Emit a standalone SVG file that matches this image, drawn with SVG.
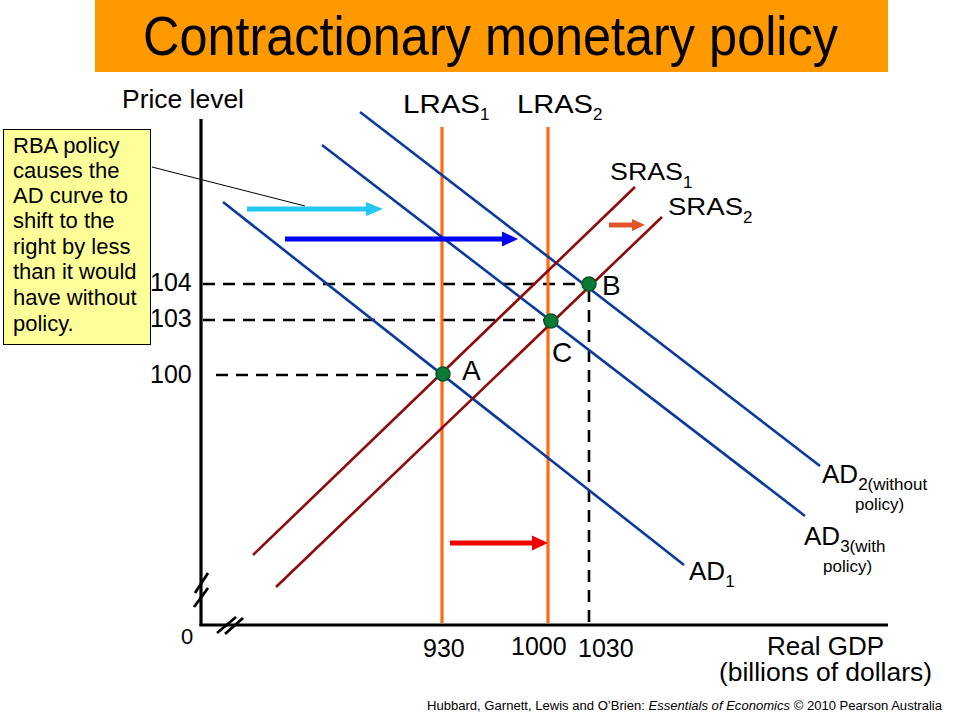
<svg xmlns="http://www.w3.org/2000/svg" width="960" height="720" viewBox="0 0 960 720">
<style>
text{font-family:"Liberation Sans",Arial,sans-serif;fill:#000}
.lbl{font-size:25px}
.sub{font-size:17px}
.ad{stroke:#0A3A9E;stroke-width:2.6;fill:none}
.sras{stroke:#8E0A0A;stroke-width:2.6;fill:none}
.lras{stroke:#FF6A13;stroke-width:3.2;fill:none}
.dash{stroke:#000;stroke-width:2.6;stroke-dasharray:12 8;fill:none}
.axis{stroke:#000;stroke-width:3.2;fill:none}
.dot{fill:#0A7A35;stroke:#0B5528;stroke-width:1.5}
.call{font-size:22px}
</style>
<rect width="960" height="720" fill="#fff"/>
<g id="title">
<rect x="95" y="0" width="793" height="72" fill="#FF9900"/>
<text x="143" y="55" font-size="56" textLength="695" lengthAdjust="spacingAndGlyphs">Contractionary monetary policy</text>
</g>
<g id="axes">
<line class="axis" x1="201" y1="119" x2="201" y2="626"/>
<line class="axis" x1="199.5" y1="625" x2="888" y2="625"/>
<g stroke="#000" stroke-width="2.8">
<line x1="195" y1="593" x2="208" y2="573"/>
<line x1="194" y1="607" x2="208" y2="588"/>
<line x1="217" y1="633" x2="236" y2="617"/>
<line x1="225" y1="634" x2="243" y2="618"/>
</g>
<text class="lbl" x="122" y="108" textLength="122" lengthAdjust="spacingAndGlyphs">Price level</text>
<text x="181" y="644" font-size="22">0</text>
<text class="lbl" x="150" y="291">104</text>
<text class="lbl" x="150" y="327">103</text>
<text class="lbl" x="150" y="383">100</text>
<text class="lbl" x="423" y="657">930</text>
<text class="lbl" x="511" y="655">1000</text>
<text class="lbl" x="578" y="657">1030</text>
<text class="lbl" x="767" y="655" textLength="117" lengthAdjust="spacingAndGlyphs">Real GDP</text>
<text class="lbl" x="719" y="681" textLength="213" lengthAdjust="spacingAndGlyphs">(billions of dollars)</text>
</g>
<g id="guides">
<line class="dash" x1="203" y1="284" x2="589" y2="284"/>
<line class="dash" x1="203" y1="320" x2="551" y2="320"/>
<line class="dash" x1="216" y1="375" x2="443" y2="375"/>
<line class="dash" x1="589" y1="290" x2="589" y2="625"/>
</g>
<g id="LRAS1">
<line class="lras" x1="442" y1="127" x2="442" y2="623"/>
<text x="403" y="113" font-size="26" textLength="77" lengthAdjust="spacingAndGlyphs">LRAS</text><text x="480" y="120" class="sub">1</text>
</g>
<g id="LRAS2">
<line class="lras" x1="548" y1="127" x2="548" y2="623"/>
<text x="517" y="113" font-size="26" textLength="76" lengthAdjust="spacingAndGlyphs">LRAS</text><text x="593" y="120" class="sub">2</text>
</g>
<g id="AD1">
<line class="ad" x1="223" y1="202" x2="684" y2="565"/>
<text x="689" y="580" font-size="26">AD<tspan class="sub" dy="7">1</tspan></text>
</g>
<g id="AD3">
<line class="ad" x1="322" y1="145" x2="805" y2="516"/>
<text x="804" y="545" font-size="26">AD<tspan class="sub" dy="7">3(with</tspan></text>
<text x="823" y="572" class="sub">policy)</text>
</g>
<g id="AD2">
<line class="ad" x1="360" y1="112" x2="820" y2="466"/>
<text x="822" y="483" font-size="26">AD<tspan class="sub" dy="7">2(without</tspan></text>
<text x="855" y="510" class="sub">policy)</text>
</g>
<g id="SRAS1">
<line class="sras" x1="253" y1="555" x2="635" y2="187"/>
<text x="610" y="180" font-size="24" textLength="73" lengthAdjust="spacingAndGlyphs">SRAS</text><text x="683" y="188" class="sub">1</text>
</g>
<g id="SRAS2">
<line class="sras" x1="276" y1="587" x2="662" y2="217"/>
<text x="668" y="215" font-size="24" textLength="75" lengthAdjust="spacingAndGlyphs">SRAS</text><text x="743" y="223" class="sub">2</text>
</g>
<g id="connectors">
<line x1="152" y1="167" x2="305" y2="206" stroke="#000" stroke-width="1"/>
<line x1="247" y1="209" x2="368" y2="209" stroke="#22C8F2" stroke-width="5"/>
<polygon points="366,202 383,209 366,216" fill="#22C8F2"/>
<line x1="285" y1="239" x2="504" y2="239" stroke="#0000F5" stroke-width="5"/>
<polygon points="502,231.5 518,239 502,246.5" fill="#0000F5"/>
<line x1="450" y1="543" x2="534" y2="543" stroke="#F00000" stroke-width="5"/>
<polygon points="532,535.5 548,543 532,550.5" fill="#F00000"/>
<line x1="609" y1="225" x2="634" y2="225" stroke="#E0552A" stroke-width="5"/>
<polygon points="632,219 645,225 632,231" fill="#E0552A"/>
</g>
<g id="pointA">
<circle class="dot" cx="443" cy="374" r="7"/>
<text x="462" y="380" font-size="28">A</text>
</g>
<g id="pointB">
<circle class="dot" cx="589" cy="284" r="7"/>
<text x="602" y="295" font-size="28">B</text>
</g>
<g id="pointC">
<circle class="dot" cx="551" cy="321" r="7"/>
<text x="552" y="362" font-size="28">C</text>
</g>
<g id="callout">
<rect x="3.5" y="129.5" width="147" height="215" fill="#FFFF99" stroke="#000" stroke-width="1"/>
<text class="call" x="13" y="153">RBA policy</text>
<text class="call" x="13" y="178">causes the</text>
<text class="call" x="13" y="203">AD curve to</text>
<text class="call" x="13" y="228">shift to the</text>
<text class="call" x="13" y="254">right by less</text>
<text class="call" x="13" y="279">than it would</text>
<text class="call" x="13" y="305">have without</text>
<text class="call" x="13" y="331">policy.</text>
</g>
<g id="footer">
<text x="427" y="710" font-size="12.5" textLength="515" lengthAdjust="spacingAndGlyphs">Hubbard, Garnett, Lewis and O’Brien: <tspan font-style="italic">Essentials of Economics</tspan> © 2010 Pearson Australia</text>
</g>
</svg>
